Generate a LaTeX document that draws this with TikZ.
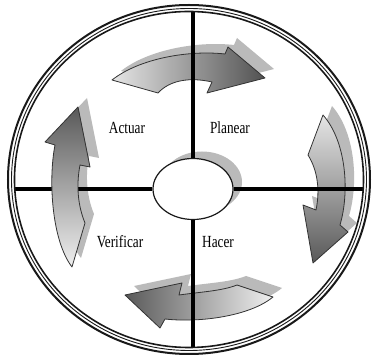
\documentclass[tikz,border=0pt]{standalone}
\usepackage{fontspec}
\setmainfont{Liberation Serif}
\usetikzlibrary{shapes.geometric}

\tikzset{
  ring/.style={draw=black!90},
  crossline/.style={line width=3.2pt, draw=black},
  cyclearrow/.style={draw=black!80, line width=0.8pt, line join=round},
  arrowshadow/.style={fill=black!27},
  lbl/.style={font=\fontsize{17}{17}\selectfont, text=black, xscale=0.78, transform shape}
}

% outlines of the four curved arrows
\newcommand{\planpath}{(112,276) .. controls (140,298) and (190,306) .. (225,302) -- (228,309) -- (265,278) -- (207,263) -- (212,274) .. controls (190,279) and (170,276) .. (158,263) -- cycle}
\newcommand{\hacerpath}{(323,241) .. controls (346,215) and (350,165) .. (340,131) -- (348,124) -- (313,93) -- (303,151) -- (316,146) .. controls (320,165) and (318,185) .. (308,201) -- cycle}
\newcommand{\verifpath}{(273,59) .. controls (250,40) and (200,33) .. (165,37) -- (160,28) -- (125,61) -- (182,73) -- (179,61) .. controls (200,64) and (222,65) .. (237,71) -- cycle}
\newcommand{\actpath}{(72,89) .. controls (52,115) and (48,175) .. (55,211) -- (45,214) -- (78,249) -- (90,189) -- (80,191) .. controls (76,170) and (78,150) .. (85,133) -- cycle}

\begin{document}
\begin{tikzpicture}[x=1pt, y=1pt]
\useasboundingbox (0,0) rectangle (373,356);
% shadows
\foreach \p in {\planpath,\hacerpath,\verifpath,\actpath}{\fill[arrowshadow, shift={(9,9)}] \p;}
\fill[arrowshadow] (202,174) ellipse [x radius=40, y radius=30.5];
% arrows
\shadedraw[cyclearrow, left color=black!10, right color=black!68] \planpath;
\shadedraw[cyclearrow, top color=black!10, bottom color=black!65] \hacerpath;
\shadedraw[cyclearrow, right color=black!6, left color=black!65] \verifpath;
% hub and cross
\node[ellipse, draw=black!90, line width=1.2pt, fill=white, minimum width=80pt, minimum height=61pt, inner sep=0pt] (hub) at (193,167) {};
\coordinate (ringN) at (193,344.5);
\coordinate (ringS) at (193,8.5);
\coordinate (ringW) at (14.8,167);
\coordinate (ringE) at (363.2,167);
\draw[crossline] (ringN) -- (hub.north);
\draw[crossline] (hub.south) -- (ringS);
\draw[crossline] (ringW) -- (hub.west);
\draw[crossline] (hub.east) -- (ringE);
\shadedraw[cyclearrow, bottom color=black!6, top color=black!65] \actpath;
% outer ring
\draw[ring, line width=2pt] (189,176.5) ellipse [x radius=181, y radius=174.5];
\draw[ring, line width=0.9pt] (189,176.5) ellipse [x radius=177.5, y radius=171];
\draw[ring, line width=1.6pt] (189,176.5) ellipse [x radius=174.5, y radius=168];
% labels
\node[lbl] (actuar) at (127,228) {Actuar};
\node[lbl] (planear) at (230,228) {Planear};
\node[lbl] (verificar) at (120,114) {Verificar};
\node[lbl] (hacer) at (218,114) {Hacer};
\end{tikzpicture}
\end{document}
